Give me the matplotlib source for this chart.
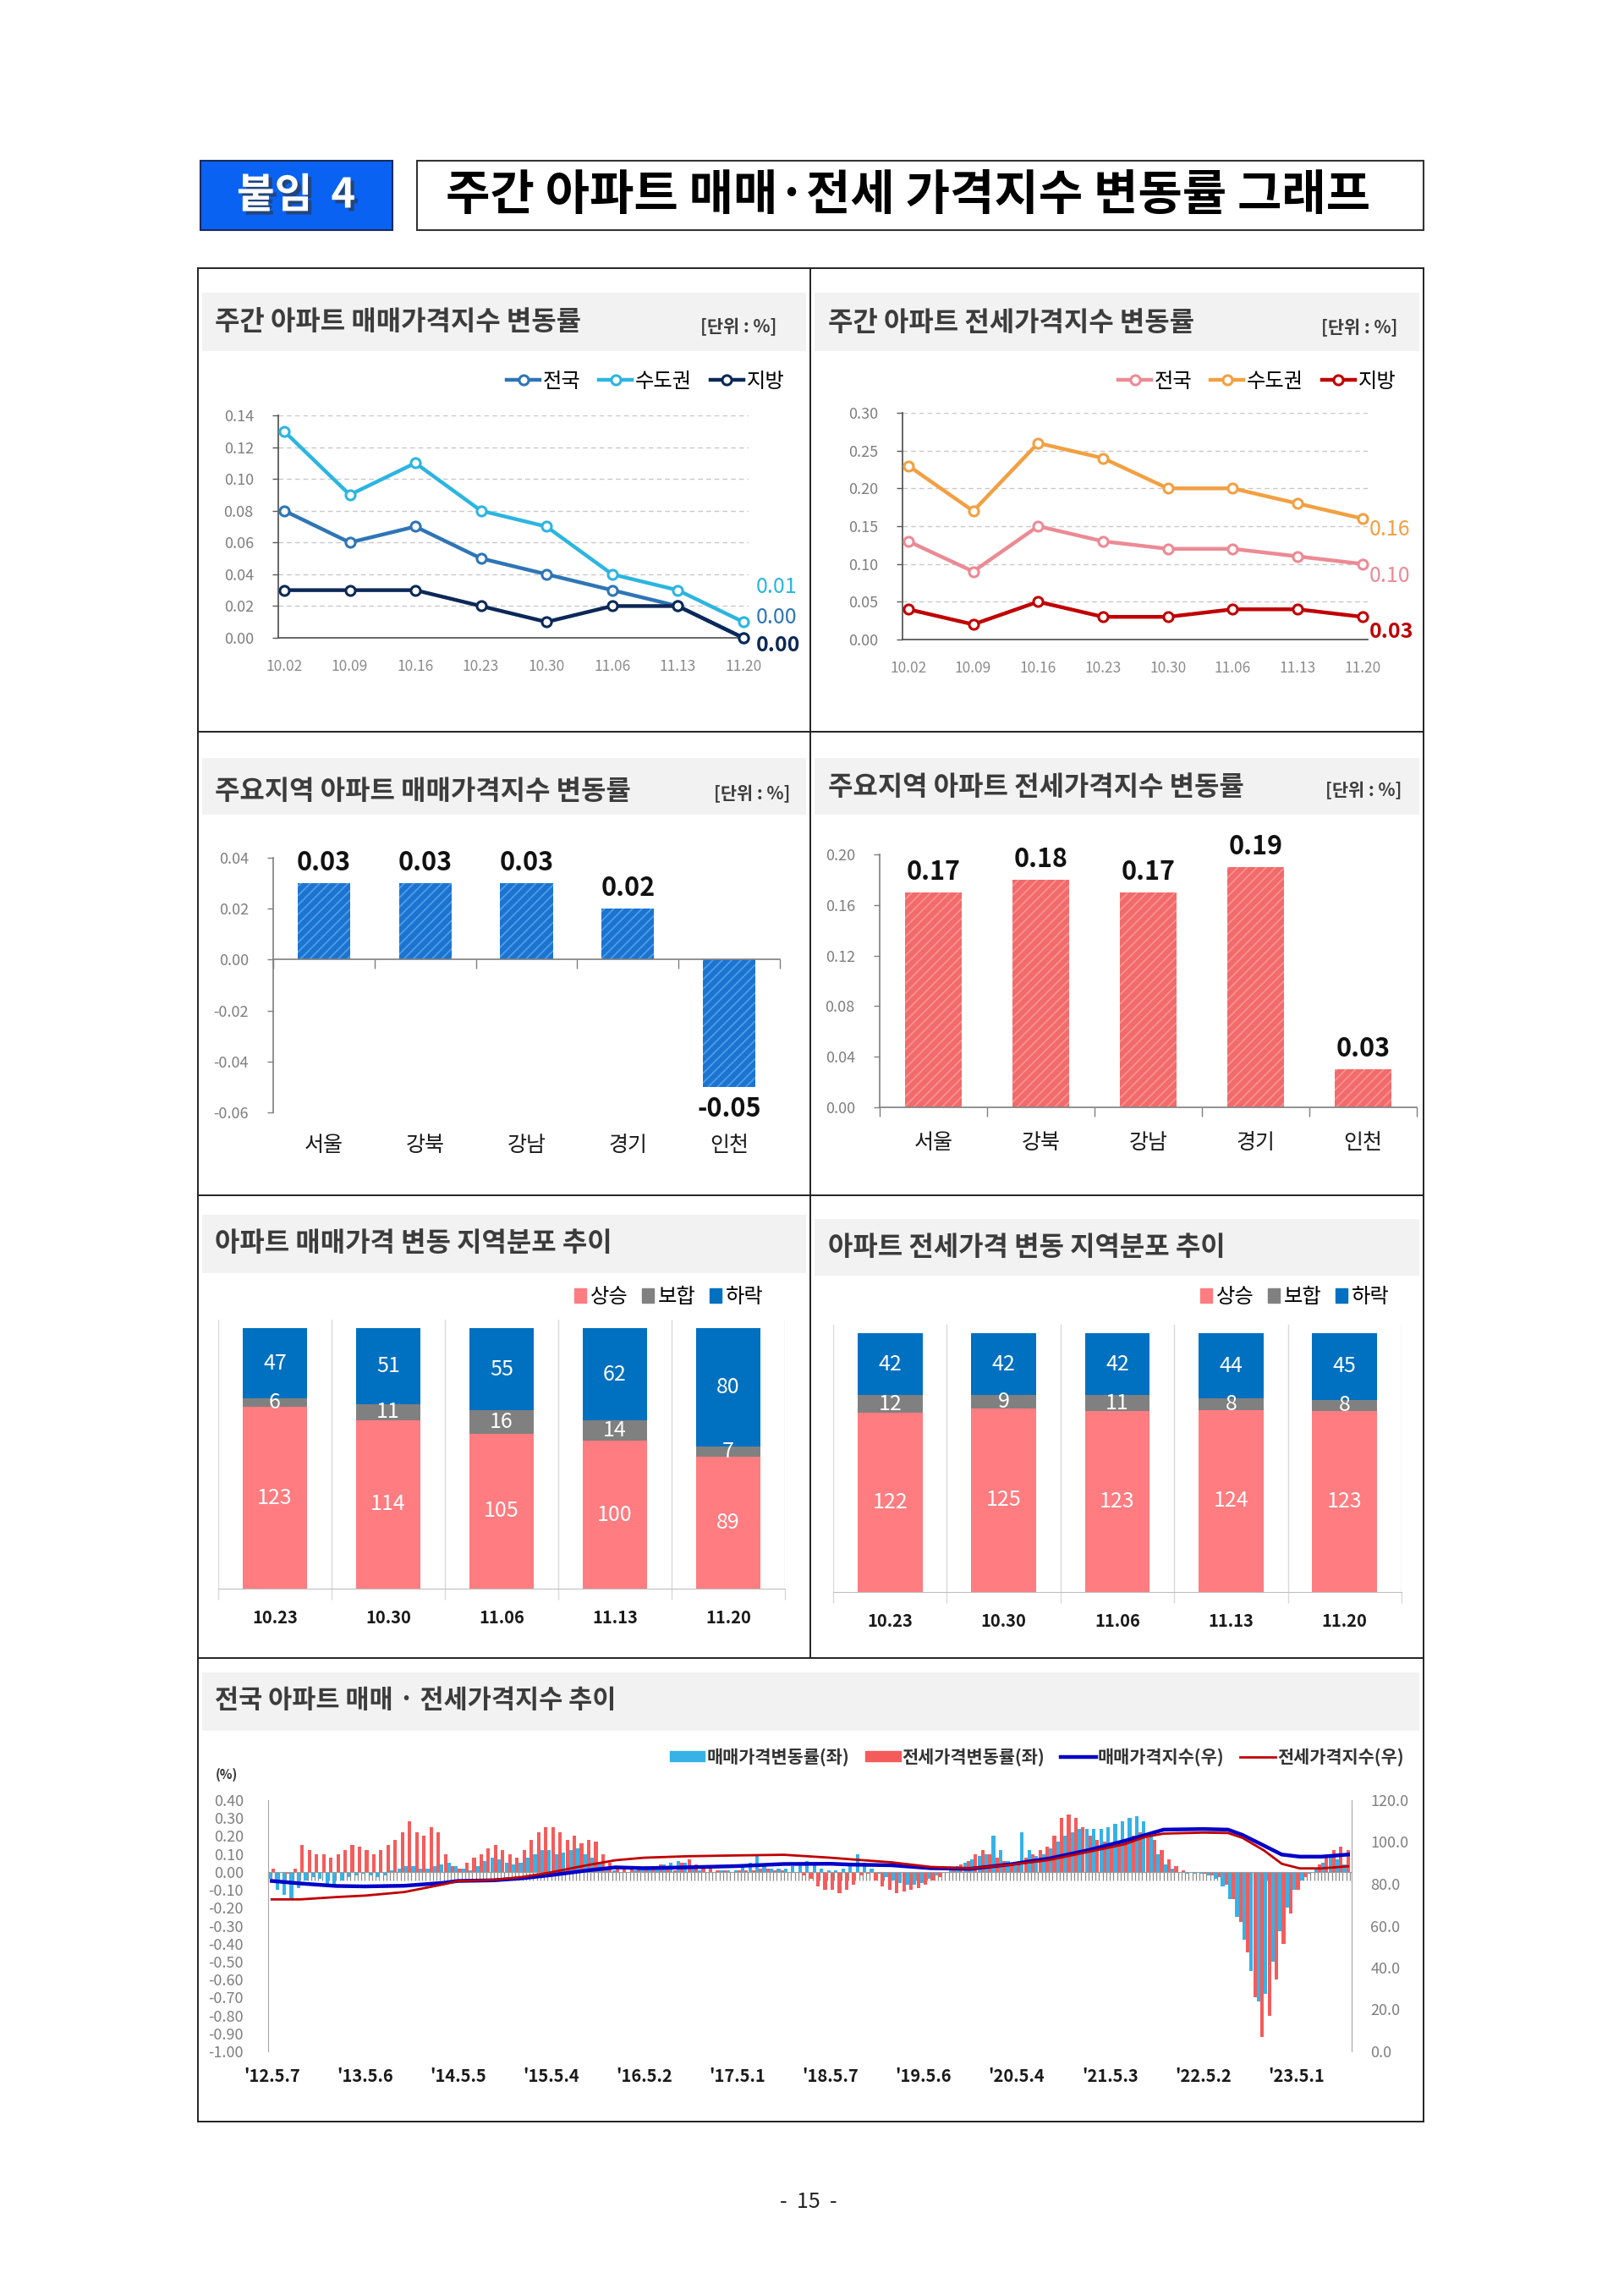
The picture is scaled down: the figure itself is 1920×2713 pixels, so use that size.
import numpy as np
import matplotlib
matplotlib.use("Agg")
import matplotlib.pyplot as plt
import matplotlib.patheffects as pe
from matplotlib.patches import Rectangle, Patch
from matplotlib.lines import Line2D
from matplotlib.ticker import MultipleLocator, FormatStrFormatter, NullLocator

plt.rcParams['font.family'] = ['Noto Sans CJK KR', 'DejaVu Sans']
plt.rcParams['hatch.linewidth'] = 1.3

# ---- weekly change, last 8 weeks (%)
weeks = ["10.02", "10.09", "10.16", "10.23", "10.30", "11.06", "11.13", "11.20"]
sale_nation = [0.08, 0.06, 0.07, 0.05, 0.04, 0.03, 0.02, 0.00]
sale_capital = [0.13, 0.09, 0.11, 0.08, 0.07, 0.04, 0.03, 0.01]
sale_local = [0.03, 0.03, 0.03, 0.02, 0.01, 0.02, 0.02, 0.00]
jeonse_nation = [0.13, 0.09, 0.15, 0.13, 0.12, 0.12, 0.11, 0.10]
jeonse_capital = [0.23, 0.17, 0.26, 0.24, 0.20, 0.20, 0.18, 0.16]
jeonse_local = [0.04, 0.02, 0.05, 0.03, 0.03, 0.04, 0.04, 0.03]

# ---- main regions (%)
regions = ["서울", "강북", "강남", "경기", "인천"]
region_sale = [0.03, 0.03, 0.03, 0.02, -0.05]
region_jeonse = [0.17, 0.18, 0.17, 0.19, 0.03]

# ---- number of regions rising / flat / falling
dist_weeks = ["10.23", "10.30", "11.06", "11.13", "11.20"]
sale_up = [123, 114, 105, 100, 89]
sale_flat = [6, 11, 16, 14, 7]
sale_down = [47, 51, 55, 62, 80]
jeonse_up = [122, 125, 123, 124, 123]
jeonse_flat = [12, 9, 11, 8, 8]
jeonse_down = [42, 42, 42, 44, 45]

# ---- long run series since '12.5.7 (one value every 4 weeks)
rate_step = 4
year_labels = ["'12.5.7", "'13.5.6", "'14.5.5", "'15.5.4", "'16.5.2", "'17.5.1",
               "'18.5.7", "'19.5.6", "'20.5.4", "'21.5.3", "'22.5.2", "'23.5.1"]
year_weeks = [0, 52, 104, 156, 208, 260, 312, 364, 416, 468, 520, 572]
sale_rate = [
    -0.04, -0.10, -0.13, -0.15, -0.09, -0.05, -0.03, -0.04, -0.07, -0.08, -0.05, -0.03, -0.02,
    -0.01, -0.02, -0.03, -0.02, 0.01, 0.02, 0.03, 0.03, 0.02, 0.02, 0.03, 0.04, 0.05,
    0.03, 0.02, 0.01, 0.03, 0.06, 0.08, 0.07, 0.05, 0.04, 0.05, 0.08, 0.10, 0.12,
    0.12, 0.10, 0.11, 0.12, 0.13, 0.10, 0.08, 0.05, 0.02, 0.01, 0.00, 0.00, 0.01,
    0.02, 0.02, 0.03, 0.04, 0.05, 0.06, 0.05, 0.03, 0.01, 0.00, 0.00, 0.01, 0.01,
    0.01, 0.03, 0.05, 0.10, 0.04, 0.02, 0.02, 0.02, 0.03, 0.05, 0.06, 0.04, 0.02,
    0.01, 0.01, 0.02, 0.04, 0.10, 0.05, 0.02, -0.01, -0.03, -0.05, -0.06, -0.07, -0.07,
    -0.06, -0.04, -0.02, 0.00, 0.01, 0.03, 0.05, 0.07, 0.09, 0.10, 0.20, 0.12, 0.06,
    0.05, 0.22, 0.12, 0.09, 0.10, 0.13, 0.17, 0.20, 0.22, 0.24, 0.24, 0.24, 0.24,
    0.25, 0.27, 0.28, 0.30, 0.31, 0.28, 0.20, 0.10, 0.04, 0.02, 0.00, -0.01, -0.01,
    -0.01, -0.02, -0.04, -0.08, -0.15, -0.25, -0.38, -0.55, -0.72, -0.68, -0.50, -0.33, -0.20,
    -0.10, -0.05, -0.01, 0.02, 0.05, 0.08, 0.07, 0.04,
]
jeonse_rate = [
    0.02, 0.00, -0.01, 0.02, 0.15, 0.12, 0.10, 0.10, 0.08, 0.10, 0.12, 0.15, 0.14,
    0.12, 0.10, 0.12, 0.15, 0.18, 0.22, 0.28, 0.22, 0.20, 0.25, 0.22, 0.10, 0.03,
    0.02, 0.05, 0.08, 0.10, 0.13, 0.15, 0.12, 0.10, 0.08, 0.12, 0.18, 0.22, 0.25,
    0.25, 0.22, 0.18, 0.20, 0.16, 0.18, 0.17, 0.10, 0.05, 0.03, 0.02, 0.03, 0.02,
    0.03, 0.02, 0.04, 0.02, 0.01, 0.05, 0.07, 0.04, 0.02, 0.02, 0.01, 0.01, 0.00,
    0.01, 0.01, 0.01, 0.02, 0.02, 0.01, 0.01, 0.00, 0.00, -0.02, -0.04, -0.08, -0.10,
    -0.10, -0.12, -0.10, -0.07, -0.02, -0.01, -0.05, -0.08, -0.10, -0.12, -0.11, -0.10, -0.09,
    -0.07, -0.05, -0.03, 0.00, 0.02, 0.04, 0.06, 0.10, 0.12, 0.10, 0.08, 0.06, 0.05,
    0.05, 0.08, 0.10, 0.12, 0.14, 0.20, 0.30, 0.32, 0.30, 0.25, 0.20, 0.18, 0.17,
    0.16, 0.17, 0.18, 0.20, 0.22, 0.20, 0.18, 0.12, 0.07, 0.03, 0.01, 0.00, 0.00,
    -0.01, -0.02, -0.03, -0.07, -0.15, -0.28, -0.45, -0.70, -0.92, -0.80, -0.60, -0.40, -0.23,
    -0.10, -0.03, 0.00, 0.04, 0.08, 0.12, 0.14, 0.12,
]
index_weeks = [0, 16, 36, 52, 74, 96, 104, 124, 140, 156, 176, 192, 208, 232, 260, 286, 312,
               324, 346, 368, 390, 412, 434, 456, 476, 488, 498, 520, 534, 542, 554, 564, 574, 586, 601]
sale_index = [81.4, 80.2, 79.0, 78.8, 79.1, 80.5, 81.4, 81.7, 82.7, 84.2, 86.4, 87.9, 87.5, 87.9,
              88.5, 89.5, 89.6, 89.2, 88.9, 87.5, 87.2, 89.3, 92.1, 96.1, 100.5, 103.4, 105.9,
              106.2, 105.9, 103.4, 98.3, 94.0, 93.0, 93.0, 94.0]
jeonse_index = [72.6, 72.6, 73.7, 74.4, 76.1, 79.8, 81.4, 81.9, 83.3, 85.5, 88.9, 91.3, 92.5, 93.2,
                93.6, 93.9, 92.5, 91.7, 90.3, 88.1, 87.4, 89.1, 91.4, 95.3, 98.9, 102.5, 104.0,
                104.5, 104.3, 102.0, 96.0, 89.6, 87.4, 87.4, 88.4]

W, H = 1920, 2713
fig = plt.figure(figsize=(W / 100, H / 100), dpi=100)


def fx(x):
    return x / W


def fy(y):
    return 1 - y / H


def box(x0, y0, x1, y1):
    return [x0 / W, 1 - y1 / H, (x1 - x0) / W, (y1 - y0) / H]


def rect(x0, y0, x1, y1, **kw):
    fig.add_artist(Rectangle((fx(x0), fy(y1)), (x1 - x0) / W, (y1 - y0) / H,
                             transform=fig.transFigure, **kw))


def hline(x0, x1, y, **kw):
    fig.add_artist(Line2D([fx(x0), fx(x1)], [fy(y), fy(y)], transform=fig.transFigure, **kw))


def vline(x, y0, y1, **kw):
    fig.add_artist(Line2D([fx(x), fx(x)], [fy(y0), fy(y1)], transform=fig.transFigure, **kw))


# ---- page header
rect(237, 190, 464, 272, facecolor='#0a62f2', edgecolor='#1a2a60', lw=1.5)
fig.text(fx(350), fy(231), "붙임  4", ha='center', va='center', fontsize=35, weight='bold', color='white',
         path_effects=[pe.SimplePatchShadow(offset=(3, -3), shadow_rgbFace='#333333', alpha=0.6), pe.Normal()])
rect(493, 190, 1683, 272, facecolor='white', edgecolor='#333333', lw=1.5)
fig.text(fx(1074), fy(231), "주간 아파트 매매·전세 가격지수 변동률 그래프", ha='center', va='center',
         fontsize=41, weight='bold', color='black')

# ---- panel frame
frame = dict(color='#222222', lw=1.4)
hline(234, 1683, 317, **frame)
hline(234, 1683, 2508, **frame)
vline(234, 317, 2508, **frame)
vline(1683, 317, 2508, **frame)
vline(958, 317, 1960, **frame)
for yy in [865, 1413, 1960]:
    hline(234, 1683, yy, **frame)

# ---- title bands
band = dict(facecolor='#f2f2f2', edgecolor='none', zorder=0)
rect(239, 346, 953, 415, **band)
rect(963, 346, 1678, 415, **band)
rect(239, 896, 953, 963, **band)
rect(963, 896, 1678, 963, **band)
rect(239, 1436, 953, 1505, **band)
rect(963, 1441, 1678, 1508, **band)
rect(239, 1977, 1678, 2046, **band)

tcol = '#3c3c3c'
tsize = 23
usize = 15
fig.text(fx(254), fy(381), "주간 아파트 매매가격지수 변동률", ha='left', va='center', fontsize=tsize, weight='bold', color=tcol)
fig.text(fx(918), fy(387), "[단위 : %]", ha='right', va='center', fontsize=usize, weight='bold', color=tcol)
fig.text(fx(979), fy(382), "주간 아파트 전세가격지수 변동률", ha='left', va='center', fontsize=tsize, weight='bold', color=tcol)
fig.text(fx(1652), fy(388), "[단위 : %]", ha='right', va='center', fontsize=usize, weight='bold', color=tcol)
fig.text(fx(254), fy(936), "주요지역 아파트 매매가격지수 변동률", ha='left', va='center', fontsize=tsize, weight='bold', color=tcol)
fig.text(fx(934), fy(939), "[단위 : %]", ha='right', va='center', fontsize=usize, weight='bold', color=tcol)
fig.text(fx(979), fy(931), "주요지역 아파트 전세가격지수 변동률", ha='left', va='center', fontsize=tsize, weight='bold', color=tcol)
fig.text(fx(1657), fy(935), "[단위 : %]", ha='right', va='center', fontsize=usize, weight='bold', color=tcol)
fig.text(fx(254), fy(1470), "아파트 매매가격 변동 지역분포 추이", ha='left', va='center', fontsize=tsize, weight='bold', color=tcol)
fig.text(fx(979), fy(1475), "아파트 전세가격 변동 지역분포 추이", ha='left', va='center', fontsize=tsize, weight='bold', color=tcol)
fig.text(fx(254), fy(2010), "전국 아파트 매매 · 전세가격지수 추이", ha='left', va='center', fontsize=22, weight='bold', color=tcol)


# ---- weekly line charts
def line_panel(rect_px, series, ymax, ystep, labels_cfg, legend_right):
    ax = fig.add_axes(box(*rect_px))
    ax.set_facecolor('none')
    x = np.arange(len(weeks))
    handles = []
    for vals, col, lab in series:
        h, = ax.plot(x, vals, color=col, lw=3.2, marker='o', ms=8, mfc='white', mec=col, mew=2.2,
                     label=lab, clip_on=False, zorder=3)
        handles.append(h)
    ax.set_xlim(-0.09, 7.08)
    ax.set_ylim(0, ymax)
    ax.set_yticks(np.arange(0, ymax + ystep / 2, ystep))
    ax.yaxis.set_major_formatter(FormatStrFormatter('%.2f'))
    ax.set_xticks(x, weeks)
    ax.tick_params(axis='x', length=0, pad=18, labelsize=12.5, labelcolor='#8c8c8c')
    ax.tick_params(axis='y', length=5, width=1, color='#595959', pad=16, labelsize=13, labelcolor='#7f7f7f')
    ax.yaxis.grid(True, ls=(0, (4, 3)), color='#c8c8c8', lw=1)
    ax.set_axisbelow(True)
    for s in ['top', 'right']:
        ax.spines[s].set_visible(False)
    for s in ['left', 'bottom']:
        ax.spines[s].set_color('#595959')
        ax.spines[s].set_linewidth(1.3)
    for (vals, col, lab), (dx, dy, wt) in zip(series, labels_cfg):
        ax.annotate(f"{vals[-1]:.2f}", xy=(len(vals) - 1, vals[-1]), xytext=(dx, dy),
                    textcoords='offset pixels', ha='left', va='center', fontsize=18,
                    color=col, weight=wt, annotation_clip=False)
    fig.legend(handles=handles, loc='center right', bbox_to_anchor=(fx(legend_right), fy(451)),
               ncol=3, frameon=False, fontsize=17.5, handlelength=1.6, handletextpad=0.15,
               columnspacing=0.9, borderaxespad=0)
    return ax


line_panel((329, 491, 885, 754),
           [(sale_nation, '#2e75b6', '전국'), (sale_capital, '#2cb5e0', '수도권'), (sale_local, '#0c2858', '지방')],
           0.14, 0.02, [(15, 24, 'normal'), (15, 41, 'normal'), (15, -9, 'bold')], 937)
line_panel((1067, 488, 1617, 756),
           [(jeonse_nation, '#ec8a94', '전국'), (jeonse_capital, '#f2a042', '수도권'), (jeonse_local, '#c00000', '지방')],
           0.30, 0.05, [(8, -14, 'normal'), (8, -13, 'normal'), (8, -18, 'bold')], 1660)


# ---- region bar charts
def region_panel(rect_px, vals, ylo, yhi, ystep, face, hatch_col, pad_lab):
    ax = fig.add_axes(box(*rect_px))
    ax.set_facecolor('none')
    x = np.arange(len(regions))
    ax.bar(x, vals, width=0.52, color=face, edgecolor=hatch_col, lw=0, hatch='///', zorder=2)
    ax.set_xlim(-0.5, len(regions) - 0.5)
    ax.set_ylim(ylo, yhi)
    ax.set_yticks(np.arange(ylo, yhi + ystep / 2, ystep))
    ax.yaxis.set_major_formatter(FormatStrFormatter('%.2f'))
    ax.tick_params(axis='y', length=5, width=1, color='#7f7f7f', pad=16, labelsize=13, labelcolor='#7f7f7f')
    ax.spines['bottom'].set_position(('data', 0))
    ax.set_xticks(np.arange(-0.5, len(regions), 1.0))
    ax.tick_params(axis='x', length=8, width=1, color='#7f7f7f', labelbottom=False)
    for s in ['top', 'right']:
        ax.spines[s].set_visible(False)
    for s in ['left', 'bottom']:
        ax.spines[s].set_color('#7f7f7f')
        ax.spines[s].set_linewidth(1.2)
    sec = ax.secondary_xaxis(0)
    sec.set_xticks(x, regions)
    sec.tick_params(length=0, pad=pad_lab, labelsize=18, labelcolor='#1a1a1a')
    sec.spines['bottom'].set_visible(False)
    for xi, v in zip(x, vals):
        if v >= 0:
            ax.annotate(f"{v:.2f}", xy=(xi, v), xytext=(0, 8), textcoords='offset pixels',
                        ha='center', va='bottom', fontsize=22, weight='bold', color='#111111',
                        annotation_clip=False)
        else:
            ax.annotate(f"{v:.2f}", xy=(xi, v), xytext=(0, -10), textcoords='offset pixels',
                        ha='center', va='top', fontsize=22, weight='bold', color='#111111',
                        annotation_clip=False)
    return ax


region_panel((323, 1014, 922, 1315), region_sale, -0.06, 0.04, 0.02, '#1c74d0', '#4f9de8', 19)
region_panel((1040, 1010, 1675, 1309), region_jeonse, 0.00, 0.20, 0.04, '#f26a6a', '#f79393', 21)


# ---- distribution stacked bars
c_up, c_flat, c_down = '#ff7c80', '#808080', '#0070c0'


def dist_panel(rect_px, up, flat, down, legend_right):
    ax = fig.add_axes(box(*rect_px))
    ax.set_facecolor('none')
    x = np.arange(len(dist_weeks))
    up = np.array(up)
    flat = np.array(flat)
    down = np.array(down)
    ax.bar(x, up, width=0.57, color=c_up, zorder=2)
    ax.bar(x, flat, bottom=up, width=0.57, color=c_flat, zorder=2)
    ax.bar(x, down, bottom=up + flat, width=0.57, color=c_down, zorder=2)
    for xi, a, b, c in zip(x, up, flat, down):
        for val, mid in [(a, a / 2), (b, a + b / 2), (c, a + b + c / 2)]:
            ax.text(xi, mid, str(val), ha='center', va='center', fontsize=18, color='white', zorder=3)
    ax.set_xlim(-0.5, len(dist_weeks) - 0.5)
    ax.set_ylim(0, 182)
    for b in np.arange(-0.5, len(dist_weeks), 1.0):
        ax.axvline(b, color='#d9d9d9', lw=1, zorder=1)
    ax.set_yticks([])
    ax.set_xticks(x, dist_weeks)
    ax.xaxis.set_minor_locator(MultipleLocator(1.0, offset=0.5))
    ax.tick_params(axis='x', which='major', length=0, pad=17, labelsize=14.5, labelcolor='#1a1a1a')
    ax.tick_params(axis='x', which='minor', length=9, width=1, color='#d9d9d9')
    for lab in ax.get_xticklabels():
        lab.set_fontweight('bold')
    for s in ['top', 'right', 'left']:
        ax.spines[s].set_visible(False)
    ax.spines['bottom'].set_color('#bfbfbf')
    handles = [Patch(color=c_up, label='상승'), Patch(color=c_flat, label='보합'), Patch(color=c_down, label='하락')]
    fig.legend(handles=handles, loc='center right', bbox_to_anchor=(fx(legend_right), fy(1533)),
               ncol=3, frameon=False, fontsize=17.5, handlelength=0.55, handleheight=0.7,
               handletextpad=0.2, columnspacing=0.7, borderaxespad=0)
    return ax


dist_panel((258, 1560, 928, 1878), sale_up, sale_flat, sale_down, 912)
dist_panel((985, 1566, 1657, 1882), jeonse_up, jeonse_flat, jeonse_down, 1652)

# ---- long-run chart
c_sr, c_jr = '#36b2e6', '#f45c5c'
c_si, c_ji = '#0000c8', '#c00000'
ax = fig.add_axes(box(317, 2128, 1598, 2425))
ax.set_facecolor('none')
xr = np.arange(len(sale_rate)) * rate_step
ax.bar(xr - 1.0, sale_rate, width=1.95, color=c_sr, lw=0, zorder=2)
ax.bar(xr + 1.0, jeonse_rate, width=1.95, color=c_jr, lw=0, zorder=2)
ax.set_xlim(-2, 603)
ax.set_ylim(-1.0, 0.4)
ax.set_yticks(np.round(np.arange(-1.0, 0.41, 0.1), 2) + 0.0)
ax.yaxis.set_major_formatter(FormatStrFormatter('%.2f'))
ax.tick_params(axis='y', length=0, pad=21, labelsize=13, labelcolor='#7f7f7f')
ax.spines['bottom'].set_position(('data', 0))
ax.spines['bottom'].set_color('#9a9a9a')
ax.xaxis.set_major_locator(NullLocator())
ax.xaxis.set_minor_locator(MultipleLocator(2))
ax.tick_params(axis='x', which='minor', direction='out', length=7, width=0.9, color='#8c8c8c')
for s in ['top', 'right']:
    ax.spines[s].set_visible(False)
ax.spines['left'].set_color('#a6a6a6')
sec = ax.secondary_xaxis(0)
sec.set_xticks(year_weeks, year_labels)
sec.tick_params(length=0, pad=14, labelsize=14.5, labelcolor='#1a1a1a')
for lab in sec.get_xticklabels():
    lab.set_fontweight('bold')
sec.spines['bottom'].set_visible(False)

ax2 = ax.twinx()
ax2.plot(index_weeks, sale_index, color=c_si, lw=3.2, zorder=3)
ax2.plot(index_weeks, jeonse_index, color=c_ji, lw=2.0, zorder=3)
ax2.set_ylim(0, 120)
ax2.set_yticks(np.arange(0, 121, 20))
ax2.yaxis.set_major_formatter(FormatStrFormatter('%.1f'))
ax2.tick_params(axis='y', length=0, pad=16, labelsize=13, labelcolor='#7f7f7f')
for s in ['top', 'left', 'bottom']:
    ax2.spines[s].set_visible(False)
ax2.spines['right'].set_color('#a6a6a6')

fig.text(fx(268), fy(2098), "(%)", ha='center', va='center', fontsize=11, weight='bold', color='#333333')
lh = [Patch(color=c_sr, label='매매가격변동률(좌)'), Patch(color=c_jr, label='전세가격변동률(좌)'),
      Line2D([], [], color=c_si, lw=3.2, label='매매가격지수(우)'),
      Line2D([], [], color=c_ji, lw=2.0, label='전세가격지수(우)')]
leg = fig.legend(handles=lh, loc='center right', bbox_to_anchor=(fx(1668), fy(2077)), ncol=4,
                 frameon=False, fontsize=15, handlelength=2.0, handleheight=0.5,
                 handletextpad=0.1, columnspacing=0.9, borderaxespad=0)
for t in leg.get_texts():
    t.set_fontweight('bold')
    t.set_color('#333333')

fig.text(fx(956), fy(2603), "-  15  -", ha='center', va='center', fontsize=18, color='#222222')

fig.savefig("out.png", dpi=100, facecolor='white')
